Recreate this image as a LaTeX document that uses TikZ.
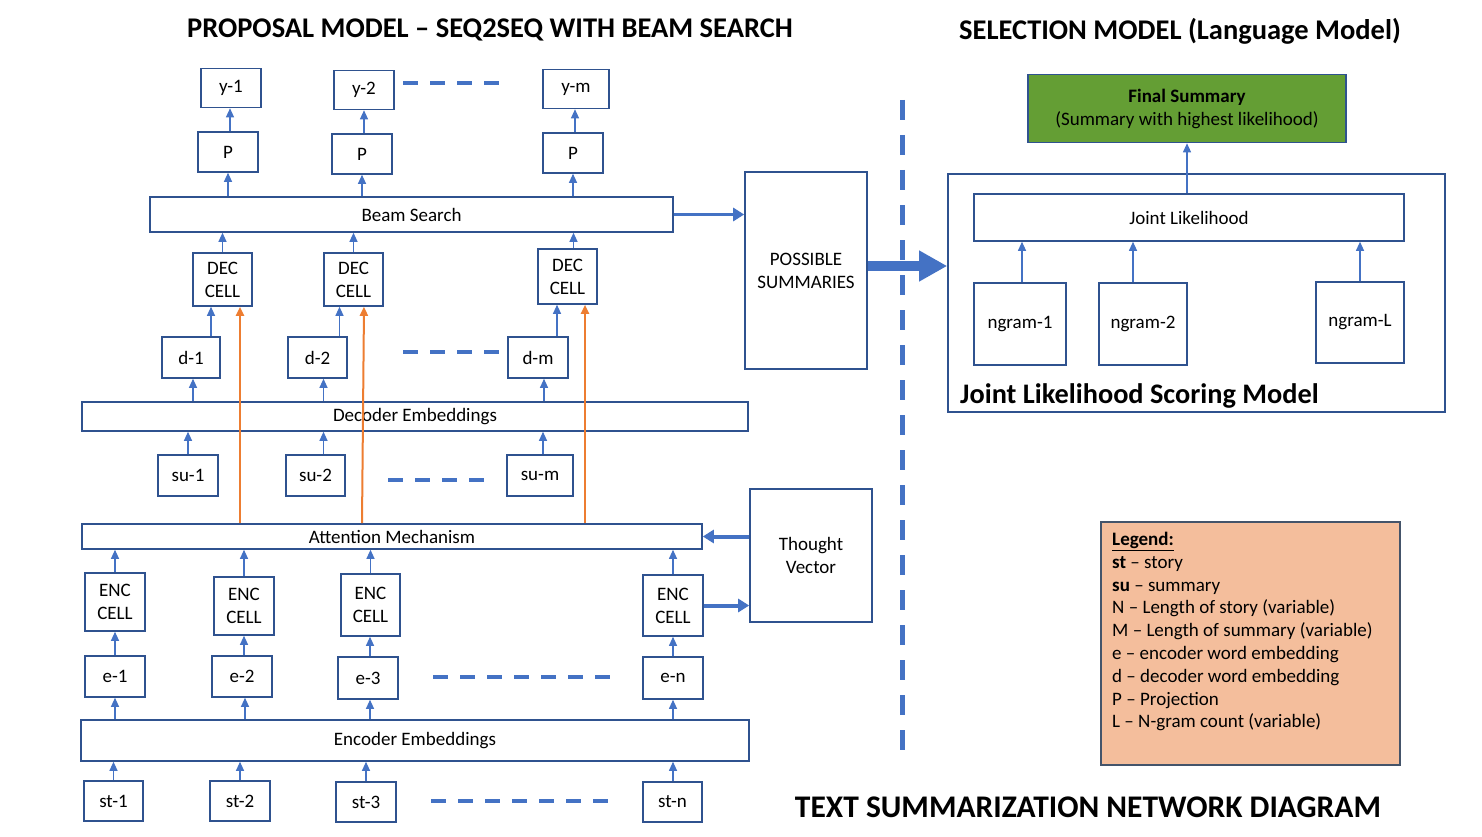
\documentclass[tikz,border=0pt]{standalone}
\usepackage{fontspec}
\setmainfont{Carlito}
\usetikzlibrary{arrows.meta}
\definecolor{bord}{RGB}{47,82,143}
\definecolor{arrc}{RGB}{68,114,196}
\definecolor{orng}{RGB}{237,125,49}
\definecolor{grn}{RGB}{100,158,52}
\definecolor{peach}{RGB}{244,190,156}
\definecolor{lgbord}{RGB}{68,84,106}
\tikzset{
  bx/.style={draw=bord, line width=1.6pt, fill=white, inner sep=0pt, align=center,
    font=\fontsize{19}{23}\selectfont},
  sz/.style 2 args={minimum width=#1pt, minimum height=#2pt},
  arr/.style={draw=arrc, line width=1.1pt, -{Triangle[width=8pt,length=9pt]}},
  oarr/.style={draw=orng, line width=2pt, -{Triangle[width=8pt,length=9pt]}},
  thk/.style={draw=arrc, line width=4pt, -{Triangle[width=13pt,length=11pt]}},
  dsh/.style={draw=arrc, line width=4pt, dash pattern=on 15pt off 12pt},
  ttl/.style={font=\bfseries\fontsize{28.5}{33}\selectfont},
}
\begin{document}
\begin{tikzpicture}[x=1pt,y=-1pt]
\useasboundingbox (0,0) rectangle (1482,837);
% titles
\node[ttl] (t1) at (490,30) {PROPOSAL MODEL – SEQ2SEQ WITH BEAM SEARCH};
\node[ttl] (t2) at (1180,31) {SELECTION MODEL (Language Model)};
\node[font=\bfseries\fontsize{31.5}{36}\selectfont] (t3) at (1088,807) {TEXT SUMMARIZATION NETWORK DIAGRAM};

% top row y
\node[bx, sz={60}{39}] (y1) at (231,88) {y-1};
\node[bx, sz={60}{39}] (y2) at (364,90) {y-2};
\node[bx, sz={66}{39}] (ym) at (576,89) {y-m};
\node[bx, sz={60}{40}] (p1) at (228,152) {P};
\node[bx, sz={60}{40}] (p2) at (362,154) {P};
\node[bx, sz={60}{40}] (p3) at (573,153) {P};
\node[bx, sz={523}{35}] (beam) at (411.5,214.5) {Beam Search};
\node[bx, sz={59}{53}] (dec1) at (222.5,279.5) {DEC\\CELL};
\node[bx, sz={59}{53}] (dec2) at (353.5,279.5) {DEC\\CELL};
\node[bx, sz={59}{55}] (dec3) at (567.5,276.5) {DEC\\CELL};
\node[bx, sz={58}{41}] (d1) at (191,357.5) {d-1};
\node[bx, sz={59}{41}] (d2) at (317.5,357.5) {d-2};
\node[bx, sz={60}{41}] (dm) at (538,357.5) {d-m};
\node[bx, sz={666}{29}] (demb) at (415,416.5) {Decoder Embeddings};
\node[bx, sz={60}{41}] (su1) at (188,475.5) {su-1};
\node[bx, sz={59}{41}] (su2) at (315.5,475.5) {su-2};
\node[bx, sz={66}{41}] (sum) at (540,475.5) {su-m};
\node[bx, sz={620}{25}] (att) at (392,536.5) {Attention Mechanism};
\node[bx, sz={122}{133}] (tv) at (811,555.5) {Thought\\Vector};
\node[bx, sz={60}{58}] (enc1) at (115,602) {ENC\\CELL};
\node[bx, sz={60}{58}] (enc2) at (244,606) {ENC\\CELL};
\node[bx, sz={59}{62}] (enc3) at (370.5,605) {ENC\\CELL};
\node[bx, sz={60}{61}] (enc4) at (673,605.5) {ENC\\CELL};
\node[bx, sz={60}{41}] (e1) at (115,676.5) {e-1};
\node[bx, sz={60}{41}] (e2) at (242,676.5) {e-2};
\node[bx, sz={60}{42}] (e3) at (368,678) {e-3};
\node[bx, sz={60}{42}] (en) at (673,678) {e-n};
\node[bx, sz={668}{41}] (eemb) at (415,740.5) {Encoder Embeddings};
\node[bx, sz={59}{40}] (st1) at (113.5,801) {st-1};
\node[bx, sz={60}{40}] (st2) at (240,801) {st-2};
\node[bx, sz={60}{40}] (st3) at (366,802) {st-3};
\node[bx, sz={59}{40}] (stn) at (672.5,802) {st-n};
\node[bx, sz={122}{197}] (poss) at (806,270.5) {POSSIBLE\\SUMMARIES};

% right part
\node[bx, sz={497}{238}] (outer) at (1196.5,293) {};
\node[anchor=south west, inner sep=0pt, font=\bfseries\fontsize{28.3}{32}\selectfont] (jlsm) at (960,408) {Joint Likelihood Scoring Model};
\node[bx, sz={430}{47}] (jl) at (1189,217.5) {Joint Likelihood};
\node[bx, sz={92}{82}] (ng1) at (1020,324) {ngram-1};
\node[bx, sz={88}{82}] (ng2) at (1143,324) {ngram-2};
\node[bx, sz={88}{81}] (ngl) at (1360,322.5) {ngram-L};
\node[bx, sz={318}{68}, fill=grn] (fin) at (1187,108.5) {\textbf{Final Summary}\\(Summary with highest likelihood)};
\node[draw=lgbord, line width=1.2pt, fill=peach, minimum width=299pt, minimum height=243pt, inner sep=0pt] (leg) at (1250.5,643.5) {};
\node[anchor=north west, align=left, inner sep=0pt, font=\fontsize{19}{22.8}\selectfont] (legt) at (1112,532)
 {\underline{\textbf{Legend:}}\\
  \textbf{st} – story\\
  \textbf{su} – summary\\
  N – Length of story (variable)\\
  M – Length of summary (variable)\\
  e – encoder word embedding\\
  d – decoder word embedding\\
  P – Projection\\
  L – N-gram count (variable)};

% dashed separators
\coordinate (ya) at (403,83); \coordinate (yb) at (503,83);
\draw[dsh] (ya) -- (yb);
\coordinate (da) at (403,352);
\draw[dsh] (da) -- (da -| dm.west);
\coordinate (sa) at (388,480); \coordinate (sb) at (490,480);
\draw[dsh] (sa) -- (sb);
\coordinate (ea) at (433,677); \coordinate (eb) at (618,677);
\draw[dsh] (ea) -- (eb);
\coordinate (sta) at (431,801); \coordinate (stb) at (615,801);
\draw[dsh] (sta) -- (stb);
\coordinate (va) at (902,100); \coordinate (vb) at (902,750);
\draw[draw=arrc, line width=5pt, dash pattern=on 20pt off 15pt] (va) -- (vb);

% arrows P -> y
\draw[arr] ([xshift=2pt]p1.north) -- ([xshift=2pt]p1.north |- y1.south);
\draw[arr] ([xshift=2pt]p2.north) -- ([xshift=2pt]p2.north |- y2.south);
\draw[arr] ([xshift=2pt]p3.north) -- ([xshift=2pt]p3.north |- ym.south);
% beam -> P
\draw[arr] (p1.south |- beam.north) -- (p1.south);
\draw[arr] (p2.south |- beam.north) -- (p2.south);
\draw[arr] (p3.south |- beam.north) -- (p3.south);
% DEC -> beam
\draw[arr] (dec1.north) -- (dec1.north |- beam.south);
\draw[arr] (dec2.north) -- (dec2.north |- beam.south);
\draw[arr] ([xshift=6pt]dec3.north) -- ([xshift=6pt]dec3.north |- beam.south);
% d -> DEC
\draw[arr] ([xshift=20pt]d1.north) -- ([xshift=20pt]d1.north |- dec1.south);
\draw[arr] ([xshift=22pt]d2.north) -- ([xshift=22pt]d2.north |- dec2.south);
\draw[arr] ([xshift=19pt]dm.north) -- ([xshift=19pt]dm.north |- dec3.south);
% dec emb -> d
\draw[arr] ([xshift=2pt]d1.south |- demb.north) -- ([xshift=2pt]d1.south);
\draw[arr] ([xshift=6pt]d2.south |- demb.north) -- ([xshift=6pt]d2.south);
\draw[arr] ([xshift=6pt]dm.south |- demb.north) -- ([xshift=6pt]dm.south);
% su -> dec emb
\draw[arr] (su1.north) -- (su1.north |- demb.south);
\draw[arr] ([xshift=8pt]su2.north) -- ([xshift=8pt]su2.north |- demb.south);
\draw[arr] ([xshift=3pt]sum.north) -- ([xshift=3pt]sum.north |- demb.south);
% orange: attention -> DEC
\draw[oarr] ([xshift=17.5pt]dec1.south |- att.north) -- ([xshift=17.5pt]dec1.south);
\draw[oarr] ([xshift=8.5pt]dec2.south |- att.north) -- ([xshift=10.5pt]dec2.south);
\draw[oarr] ([xshift=17.5pt]dec3.south |- att.north) -- ([xshift=17.5pt]dec3.south);
% thought vector -> attention, enc4 -> thought
\draw[thk] (tv.west |- att.east) -- (att.east);
\draw[thk] (enc4.east) -- (enc4.east -| tv.west);
% ENC -> attention
\draw[arr] (enc1.north) -- (enc1.north |- att.south);
\draw[arr] (enc2.north) -- (enc2.north |- att.south);
\draw[arr] (enc3.north) -- (enc3.north |- att.south);
\draw[arr] (enc4.north) -- (enc4.north |- att.south);
% e -> ENC
\draw[arr] (e1.north) -- (enc1.south);
\draw[arr] ([xshift=2pt]e2.north) -- ([xshift=2pt]e2.north |- enc2.south);
\draw[arr] ([xshift=2pt]e3.north) -- ([xshift=2pt]e3.north |- enc3.south);
\draw[arr] (en.north) -- (en.north |- enc4.south);
% enc emb -> e
\draw[arr] (e1.south |- eemb.north) -- (e1.south);
\draw[arr] ([xshift=3pt]e2.south |- eemb.north) -- ([xshift=3pt]e2.south);
\draw[arr] ([xshift=2pt]e3.south |- eemb.north) -- ([xshift=2pt]e3.south);
\draw[arr] (en.south |- eemb.north) -- (en.south);
% st -> enc emb
\draw[arr] (st1.north) -- (st1.north |- eemb.south);
\draw[arr] (st2.north) -- (st2.north |- eemb.south);
\draw[arr] (st3.north) -- (st3.north |- eemb.south);
\draw[arr] ([xshift=0.5pt]stn.north) -- ([xshift=0.5pt]stn.north |- eemb.south);
% beam -> possible
\draw[thk, line width=3pt] (beam.east) -- (beam.east -| poss.west);
% big arrow possible -> outer
\coordinate (bg) at (0,266);
\draw[draw=arrc, line width=10pt, -{Triangle[width=29pt,length=28pt]}] (poss.east |- bg) -- (outer.west |- bg);
% ngram -> JL
\draw[arr] ([xshift=2pt]ng1.north) -- ([xshift=2pt]ng1.north |- jl.south);
\draw[arr] ([xshift=-10pt]ng2.north) -- ([xshift=-10pt]ng2.north |- jl.south);
\draw[arr] (ngl.north) -- (ngl.north |- jl.south);
% JL -> final
\draw[arr] (fin.south |- jl.north) -- (fin.south);
\end{tikzpicture}
\end{document}
